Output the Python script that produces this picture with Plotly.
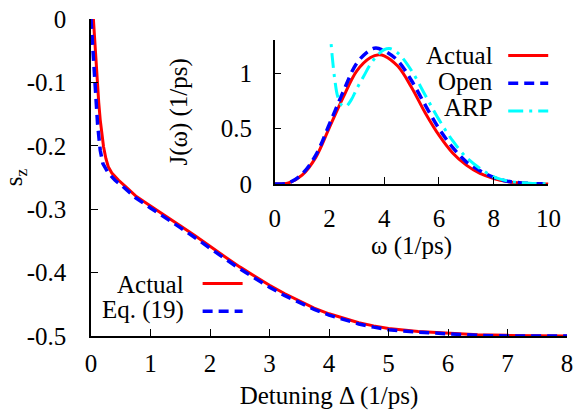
import plotly.graph_objects as go

# main panel: s_z vs detuning
delta_actual = [0.04, 0.07, 0.1, 0.13, 0.155, 0.18, 0.21, 0.25, 0.29, 0.35, 0.46, 0.6, 0.75, 1.0,
                1.25, 1.5, 1.75, 2.0, 2.25, 2.5, 2.75, 3.0, 3.25, 3.5, 3.75, 4.0, 4.25, 4.5, 4.75,
                5.0, 5.5, 6.0, 6.5, 7.0, 7.5, 8.0]
sz_actual = [0.0, -0.05, -0.099, -0.132, -0.159, -0.182, -0.201, -0.22, -0.233, -0.243, -0.254,
             -0.266, -0.279, -0.295, -0.310, -0.326, -0.342, -0.359, -0.375, -0.391, -0.406,
             -0.420, -0.433, -0.445, -0.456, -0.465, -0.472, -0.479, -0.484, -0.488, -0.493,
             -0.496, -0.498, -0.499, -0.5, -0.5]

delta_eq19 = [0.0, 0.044, 0.072, 0.11, 0.155, 0.2, 0.29, 0.4, 0.52, 0.75, 1.0, 1.25, 1.5, 1.75,
              2.0, 2.25, 2.5, 2.75, 3.0, 3.25, 3.5, 3.75, 4.0, 4.25, 4.5, 4.75, 5.0, 5.5, 6.0,
              6.5, 7.0, 7.5, 8.0]
sz_eq19 = [0.0, -0.065, -0.117, -0.165, -0.207, -0.228, -0.243, -0.254, -0.263, -0.282, -0.298,
           -0.313, -0.329, -0.345, -0.362, -0.378, -0.394, -0.409, -0.423, -0.436, -0.447,
           -0.458, -0.467, -0.474, -0.481, -0.486, -0.490, -0.494, -0.497, -0.499, -0.5, -0.5, -0.5]

# inset: spectral density J(omega)
omega = [0, 0.5, 1, 1.5, 2, 2.5, 3, 3.5, 3.8, 4, 4.5, 5, 5.5, 6, 6.5, 7, 7.5, 8, 8.5, 9, 9.5, 10]
j_actual = [0, 0.01, 0.08, 0.24, 0.51, 0.78, 1.02, 1.14, 1.165, 1.155, 1.06, 0.87, 0.64, 0.44,
            0.28, 0.17, 0.095, 0.05, 0.022, 0.008, 0.003, 0.001]

omega_open = [0, 0.5, 1, 1.5, 2, 2.5, 3, 3.5, 3.7, 4, 4.5, 5, 5.5, 6, 6.5, 7, 7.5, 8, 8.5, 9, 9.5, 10]
j_open = [0, 0.01, 0.09, 0.26, 0.54, 0.83, 1.09, 1.21, 1.225, 1.2, 1.11, 0.93, 0.71, 0.5, 0.33,
          0.2, 0.12, 0.06, 0.025, 0.01, 0.003, 0.001]

omega_arp = [2.0, 2.1, 2.2, 2.3, 2.45, 2.6, 2.8, 3.0, 3.25, 3.5, 3.75, 4.0, 4.2, 4.5, 5.0, 5.5,
             6.0, 6.5, 7.0, 7.5, 8.0, 8.5, 9.0, 9.5, 10.0]
j_arp = [1.45, 1.15, 0.93, 0.79, 0.71, 0.70, 0.76, 0.86, 0.97, 1.08, 1.16, 1.21, 1.22, 1.18, 1.02,
         0.80, 0.58, 0.39, 0.24, 0.14, 0.065, 0.028, 0.011, 0.004, 0.001]

FONT = "Liberation Serif, Times New Roman, serif"
FS = 25
RED = "#ff0000"
BLUE = "#0000ff"
CYAN = "#00ffff"

fig = go.Figure()

fig.add_trace(go.Scatter(x=delta_actual, y=sz_actual, mode="lines", name=" ",
                         line=dict(color=RED, width=3), legend="legend"))
fig.add_trace(go.Scatter(x=delta_eq19, y=sz_eq19, mode="lines", name=" ",
                         line=dict(color=BLUE, width=3.5, dash="10px,6px"), legend="legend"))

fig.add_trace(go.Scatter(x=omega, y=j_actual, mode="lines", name=" ", xaxis="x2", yaxis="y2",
                         line=dict(color=RED, width=3, shape="spline"), legend="legend2"))
fig.add_trace(go.Scatter(x=omega_open, y=j_open, mode="lines", name=" ", xaxis="x2", yaxis="y2",
                         line=dict(color=BLUE, width=3.5, dash="10px,6px", shape="spline"),
                         legend="legend2"))
fig.add_trace(go.Scatter(x=omega_arp, y=j_arp, mode="lines", name=" ", xaxis="x2", yaxis="y2",
                         line=dict(color=CYAN, width=3, dash="15px,6px,3px,6px", shape="spline"),
                         legend="legend2"))

axis_common = dict(showgrid=False, zeroline=False, showline=True, linecolor="black", linewidth=1.5,
                   ticks="inside", ticklen=7, tickwidth=1.2, tickcolor="black",
                   tickfont=dict(family=FONT, size=FS, color="black"), mirror=False,
                   automargin=False)

main_yvals = [0, -0.1, -0.2, -0.3, -0.4, -0.5]
main_ytext = ["0", "-0.1", "-0.2", "-0.3", "-0.4", "-0.5"]

fig.update_layout(
    width=576, height=413,
    margin=dict(l=91, r=9, t=19, b=77),
    paper_bgcolor="white", plot_bgcolor="rgba(0,0,0,0)",
    font=dict(family=FONT, size=FS, color="black"),
    xaxis=dict(axis_common, range=[0, 8], tickvals=list(range(9)), ticklabelstandoff=4,
               title=dict(text="Detuning Δ (1/ps)", font=dict(family=FONT, size=FS), standoff=11)),
    yaxis=dict(axis_common, range=[-0.5, 0], tickvals=main_yvals, ticktext=main_ytext,
               ticklabelstandoff=18,
               title=dict(text="s<sub>z</sub>", font=dict(family=FONT, size=FS), standoff=8)),
    xaxis2=dict(axis_common, range=[0, 10], tickvals=[0, 2, 4, 6, 8, 10], domain=[0.386, 0.961],
                anchor="y2", ticklabelstandoff=11,
                title=dict(text="ω (1/ps)", font=dict(family=FONT, size=FS), standoff=0)),
    yaxis2=dict(axis_common, range=[0, 1.3], tickvals=[0, 0.5, 1], domain=[0.4795, 0.9347],
                anchor="x2", ticklabelstandoff=16,
                title=dict(text="J(ω) (1/ps)", font=dict(family=FONT, size=FS), standoff=26)),
    legend=dict(x=0.224, y=0.225, xanchor="left", yanchor="top", bgcolor="rgba(0,0,0,0)",
                font=dict(family=FONT, size=19), tracegroupgap=0, itemwidth=40),
    legend2=dict(x=0.866, y=0.944, xanchor="left", yanchor="top", bgcolor="rgba(0,0,0,0)",
                 font=dict(family=FONT, size=19), tracegroupgap=0, itemwidth=40),
    showlegend=True,
)

# legend labels sit to the left of the line samples, as in the original
labels = [("Actual", 0.2, 0.161), ("Eq. (19)", 0.2, 0.082),
          ("Actual", 0.848, 0.886), ("Open", 0.848, 0.802), ("ARP", 0.848, 0.7215)]
for text, lx, ly in labels:
    fig.add_annotation(text=text, x=lx, y=ly, xref="paper", yref="paper", xanchor="right",
                       yanchor="middle", showarrow=False, font=dict(family=FONT, size=FS))

# the page body has an 8px default margin; drop it so the figure fills the window
fig.write_html("out.html", config={"displayModeBar": False},
               post_script="document.body.style.margin = '0px';")
